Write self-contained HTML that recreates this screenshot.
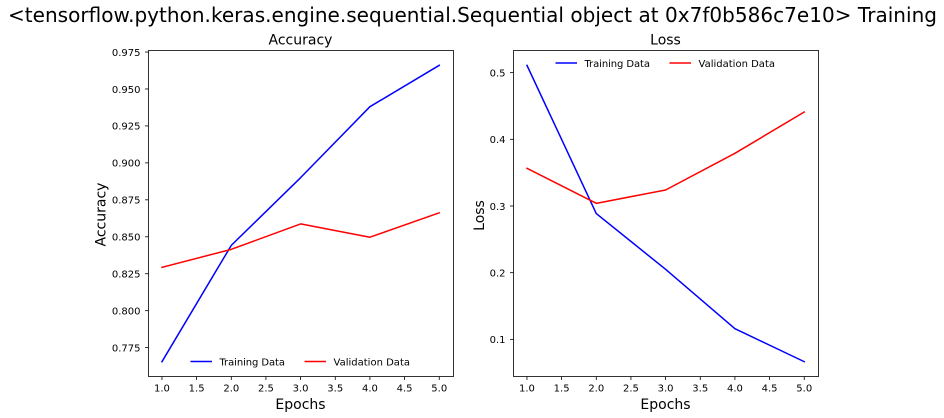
<!DOCTYPE html>
<html lang="en">
<head>
<meta charset="utf-8">
<title>Training chart</title>
<style>
html,body{margin:0;padding:0;background:#fff;}
svg{display:block;font-family:"DejaVu Sans","Liberation Sans",sans-serif;}
</style>
</head>
<body>
<svg id="chart" width="944" height="418" viewBox="0 0 944 418" xmlns="http://www.w3.org/2000/svg">
<rect x="0" y="0" width="944" height="418" fill="#ffffff"/>
<text x="8" y="22" font-size="20" textLength="929" lengthAdjust="spacing" fill="#000">&lt;tensorflow.python.keras.engine.sequential.Sequential object at 0x7f0b586c7e10&gt; Training</text>
</svg>
<script>
const epochs = [1, 2, 3, 4, 5];
const xTicks = ['1.0', '1.5', '2.0', '2.5', '3.0', '3.5', '4.0', '4.5', '5.0'];
const accuracyTrain = [0.7655, 0.8442, 0.8900, 0.9380, 0.9660];
const accuracyVal = [0.8293, 0.8415, 0.8587, 0.8497, 0.8662];
const accuracyTicks = ['0.775', '0.800', '0.825', '0.850', '0.875', '0.900', '0.925', '0.950', '0.975'];
const lossTrain = [0.5110, 0.2887, 0.2050, 0.1160, 0.0665];
const lossVal = [0.3565, 0.3040, 0.3240, 0.3790, 0.4410];
const lossTicks = ['0.1', '0.2', '0.3', '0.4', '0.5'];
const trainLabel = 'Training Data';
const valLabel = 'Validation Data';
const xLabel = 'Epochs';

const NS = 'http://www.w3.org/2000/svg';
const svg = document.getElementById('chart');

function make(parent, tag, attrs, text) {
  const el = document.createElementNS(NS, tag);
  for (const k in attrs) el.setAttribute(k, attrs[k]);
  if (text !== undefined) el.textContent = text;
  parent.appendChild(el);
  return el;
}

function drawPanel(cfg) {
  const g = make(svg, 'g', {});
  
  

  const top = 50.5, bottom = 376.5, left = cfg.left, right = cfg.left + 305;
  const scaleLeft = left - 0.4, scaleRight = right - 0.4;
  const all = cfg.train.concat(cfg.val);
  const lo = Math.min.apply(null, all), hi = Math.max.apply(null, all);
  const pad = (hi - lo) * 0.05;
  const xLo = Math.min.apply(null, epochs), xHi = Math.max.apply(null, epochs);
  const xPad = (xHi - xLo) * 0.05;
  const sx = v => scaleLeft + (v - (xLo - xPad)) / ((xHi + xPad) - (xLo - xPad)) * (scaleRight - scaleLeft);
  const sy = v => bottom - (v - (lo - pad)) / ((hi + pad) - (lo - pad)) * (bottom - top);

  const title = make(g, 'text', {x: (left + right) / 2 - 0.5, y: 44.5, 'font-size': 14, 'text-anchor': 'middle', fill: '#000'}, cfg.title);
  
  

  const xl = make(g, 'text', {x: (left + right) / 2 - 0.5, y: 409, 'font-size': 14, 'text-anchor': 'middle', fill: '#000'}, xLabel);
  
  

  const yx = cfg.yLabelX, yy = (top + bottom) / 2 + cfg.yLabelShift;
  const yl = make(g, 'text', {x: yx, y: yy, 'font-size': 14, 'text-anchor': 'middle', fill: '#000', transform: 'rotate(-90 ' + yx + ' ' + yy + ')'}, cfg.title);
  
  

  xTicks.forEach(t => {
    const px = sx(parseFloat(t));
    const tick = make(g, 'line', {x1: px, x2: px, y1: bottom, y2: bottom + 3.5, stroke: '#000', 'stroke-width': 0.8});
    
    
    const lab = make(g, 'text', {x: px, y: bottom + 15, 'font-size': 10, 'text-anchor': 'middle', fill: '#000'}, t);
    
    
  });

  cfg.ticks.forEach(t => {
    const py = sy(parseFloat(t));
    const tick = make(g, 'line', {x1: left - 3.5, x2: left, y1: py, y2: py, stroke: '#000', 'stroke-width': 0.8});
    
    
    const lab = make(g, 'text', {x: left - 8, y: py + 3.8, 'font-size': 10, 'text-anchor': 'end', fill: '#000'}, t);
    
    
  });

  const pts = arr => arr.map((v, i) => sx(epochs[i]) + ',' + sy(v)).join(' ');
  const trainLine = make(g, 'polyline', {points: pts(cfg.train), fill: 'none', stroke: '#0000ff', 'stroke-width': 1.5, 'stroke-linecap': 'square', 'stroke-linejoin': 'round'});
  
  
  const valLine = make(g, 'polyline', {points: pts(cfg.val), fill: 'none', stroke: '#ff0000', 'stroke-width': 1.5, 'stroke-linecap': 'square', 'stroke-linejoin': 'round'});
  
  

  const frame = make(g, 'rect', {x: left, y: top, width: right - left, height: bottom - top, fill: 'none', stroke: '#000', 'stroke-width': 0.8});
  
  

  const leg = make(g, 'g', {});
  
  
  const lx = cfg.legendX, ly = cfg.legendY;
  const h1 = make(leg, 'line', {x1: lx, x2: lx + 21.5, y1: ly, y2: ly, stroke: '#0000ff', 'stroke-width': 1.5});
  
  
  const t1 = make(leg, 'text', {x: lx + 29, y: ly + 4, 'font-size': 10, textLength: 65.5, lengthAdjust: 'spacing', fill: '#000'}, trainLabel);
  
  
  const h2 = make(leg, 'line', {x1: lx + 114, x2: lx + 135.5, y1: ly, y2: ly, stroke: '#ff0000', 'stroke-width': 1.5});
  
  
  const t2 = make(leg, 'text', {x: lx + 143, y: ly + 4, 'font-size': 10, textLength: 76.5, lengthAdjust: 'spacing', fill: '#000'}, valLabel);
  
  
}

drawPanel({key: 'accuracy', title: 'Accuracy', left: 148.5, train: accuracyTrain, val: accuracyVal, ticks: accuracyTicks, yLabelX: 105.5, yLabelShift: 1, legendX: 190.5, legendY: 361.5});
drawPanel({key: 'loss', title: 'Loss', left: 513.5, train: lossTrain, val: lossVal, ticks: lossTicks, yLabelX: 484, yLabelShift: 2, legendX: 555.5, legendY: 63});
</script>
</body>
</html>
